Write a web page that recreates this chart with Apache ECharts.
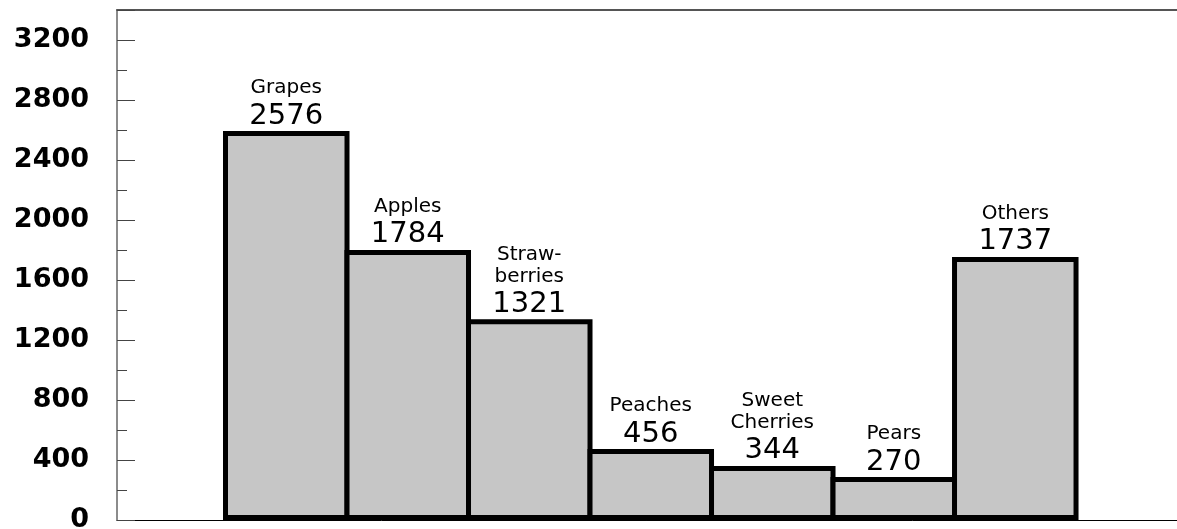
<!DOCTYPE html>
<html>
<head>
<meta charset="utf-8">
<script src="https://cdn.jsdelivr.net/npm/echarts@6/dist/echarts.min.js"></script>
<style>
html,body{margin:0;padding:0;background:#fff;}
#chart{width:1177px;height:529px;}
</style>
</head>
<body>
<div id="chart"></div>
<script>
var categories = ['Grapes', 'Apples', 'Straw-\nberries', 'Peaches', 'Sweet\nCherries', 'Pears', 'Others'];
var values = [2576, 1784, 1321, 456, 344, 270, 1737];
var majorTicks = [0, 400, 800, 1200, 1600, 2000, 2400, 2800, 3200];

var Y_MAX = 3400;
var MAJOR_STEP = 400;
var MINOR_STEP = 200;
var X0 = 0.893;      // left offset of first bar in bar-width units
var XMAX = 8.724;    // plot width in bar-width units

var chart = echarts.init(document.getElementById('chart'));
var seriesData = values.map(function (v, i) { return [i, v]; });
var noTick = { show: false, length: 0, lineStyle: { width: 0, opacity: 0 } };

chart.setOption({
  animation: false,
  backgroundColor: '#ffffff',
  grid: { left: 117, right: 0, top: 10, bottom: 9, containLabel: false, outerBoundsMode: 'none' },
  xAxis: [
    { type: 'value', min: 0, max: XMAX, position: 'bottom',
      axisLine: { show: true, onZero: false, lineStyle: { color: '#000', width: 1 } },
      axisTick: noTick, minorTick: { show: false }, axisLabel: { show: false },
      splitLine: { show: false }, minorSplitLine: { show: false } },
    { type: 'value', min: 0, max: XMAX, position: 'top',
      axisLine: { show: true, onZero: false, lineStyle: { color: '#555', width: 2 } },
      axisTick: noTick, minorTick: { show: false }, axisLabel: { show: false },
      splitLine: { show: false }, minorSplitLine: { show: false } }
  ],
  yAxis: [
    { type: 'value', min: 0, max: Y_MAX, interval: MAJOR_STEP, position: 'left',
      axisLine: { show: true, lineStyle: { color: '#666', width: 1.5 } },
      axisTick: { show: true, inside: true, length: 18, interval: 0, lineStyle: { color: '#444', width: 1 } },
      axisLabel: { show: true, interval: 0, margin: 28, color: '#000',
        fontFamily: 'DejaVu Sans', fontWeight: 'bold', fontSize: 27,
        formatter: function (v) { return majorTicks.indexOf(Number(v)) >= 0 ? String(v) : ''; } },
      splitLine: { show: false } },
    { type: 'value', min: 0, max: Y_MAX, interval: MINOR_STEP, position: 'left',
      axisLine: { show: false },
      axisTick: { show: true, inside: true, length: 10, interval: 0, lineStyle: { color: '#444', width: 1 } },
      axisLabel: { show: false }, splitLine: { show: false } }
  ],
  series: [{
    type: 'custom',
    xAxisIndex: 0,
    yAxisIndex: 0,
    clip: false,
    data: seriesData,
    renderItem: function (params, api) {
      var i = api.value(0);
      var v = api.value(1);
      var p0 = api.coord([X0 + i, v]);
      var p1 = api.coord([X0 + i + 1, 0]);
      var cx = (p0[0] + p1[0]) / 2;
      var valY = p0[1] - 17.5;
      return {
        type: 'group',
        children: [
          { type: 'rect',
            shape: { x: p0[0], y: p0[1], width: p1[0] - p0[0], height: p1[1] - p0[1] - 2.5 },
            style: { fill: '#c6c6c6', stroke: '#000', lineWidth: 5 } },
          { type: 'text',
            style: { text: String(values[i]), x: cx, y: valY, align: 'center', verticalAlign: 'middle',
              fontFamily: 'DejaVu Sans', fontSize: 29, fill: '#000' } },
          { type: 'text',
            style: { text: categories[i], x: cx, y: valY - 17, align: 'center', verticalAlign: 'bottom',
              fontFamily: 'DejaVu Sans', fontSize: 20, lineHeight: 22, fill: '#000' } }
        ]
      };
    }
  }]
});
</script>
</body>
</html>
